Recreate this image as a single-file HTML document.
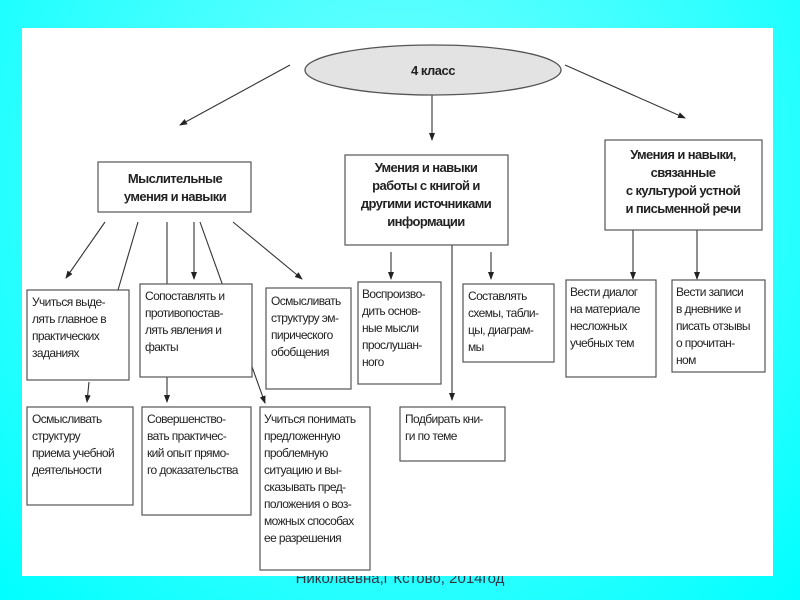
<!DOCTYPE html>
<html><head><meta charset="utf-8"><style>
html,body{margin:0;padding:0;}
body{width:800px;height:600px;overflow:hidden;background:radial-gradient(ellipse at 50% 30%,#7ff 0%,#3ff 60%,#0ff 100%);position:relative;font-family:"Liberation Sans",sans-serif;}
.foot{position:absolute;left:0;width:800px;top:570px;text-align:center;font-size:15px;color:#334;font-family:"Liberation Sans",sans-serif;}
svg{position:absolute;left:0;top:0;}
</style></head><body>
<div class="foot">Николаевна,г Кстово, 2014год</div>
<svg width="800" height="600" viewBox="0 0 800 600" font-family="Liberation Sans, sans-serif">
<defs><marker id="a" markerWidth="8" markerHeight="8" refX="7" refY="4" orient="auto" markerUnits="userSpaceOnUse"><path d="M0,1 L8,4 L0,7 z" fill="#222"/></marker></defs>
<rect x="22" y="28" width="751" height="548" fill="#fff"/>
<g stroke="#333" stroke-width="1.1" fill="none">
<line x1="290" y1="65" x2="180" y2="125" marker-end="url(#a)"/>
<line x1="432" y1="92" x2="432" y2="140" marker-end="url(#a)"/>
<line x1="565" y1="65" x2="685" y2="118" marker-end="url(#a)"/>
<line x1="105" y1="222" x2="66" y2="278" marker-end="url(#a)"/>
<line x1="138" y1="222" x2="118" y2="290"/>
<line x1="167" y1="222" x2="167" y2="284"/>
<line x1="194" y1="222" x2="194" y2="279" marker-end="url(#a)"/>
<line x1="200" y1="222" x2="265" y2="403" marker-end="url(#a)"/>
<line x1="233" y1="222" x2="302" y2="279" marker-end="url(#a)"/>
<line x1="89" y1="382" x2="87" y2="402" marker-end="url(#a)"/>
<line x1="167" y1="377" x2="167" y2="402" marker-end="url(#a)"/>
<line x1="391" y1="252" x2="391" y2="279" marker-end="url(#a)"/>
<line x1="452" y1="245" x2="452" y2="400" marker-end="url(#a)"/>
<line x1="491" y1="252" x2="491" y2="279" marker-end="url(#a)"/>
<line x1="633" y1="230" x2="633" y2="279" marker-end="url(#a)"/>
<line x1="697" y1="230" x2="697" y2="279" marker-end="url(#a)"/>
</g>
<ellipse cx="433" cy="70" rx="128" ry="25" fill="#e3e3e3" stroke="#555" stroke-width="1.3"/>
<text x="433" y="75" font-size="13" font-weight="bold" text-anchor="middle" fill="#222" letter-spacing="-0.5">4 класс</text>
<g fill="#fff" stroke="#555" stroke-width="1.2">
<rect x="98" y="162" width="153" height="50"/>
<rect x="345" y="155" width="163" height="90"/>
<rect x="605" y="140" width="157" height="90"/>
<rect x="27" y="290" width="102" height="90"/>
<rect x="140" y="284" width="112" height="93"/>
<rect x="266" y="288" width="85" height="101"/>
<rect x="358" y="282" width="83" height="102"/>
<rect x="463" y="284" width="91" height="78"/>
<rect x="566" y="280" width="90" height="97"/>
<rect x="672" y="280" width="93" height="92"/>
<rect x="27" y="407" width="106" height="98"/>
<rect x="142" y="407" width="109" height="108"/>
<rect x="260" y="407" width="110" height="163"/>
<rect x="400" y="407" width="105" height="54"/>
</g>
<g font-size="13" font-weight="bold" fill="#222" text-anchor="middle" letter-spacing="-0.6">
<text x="175" y="183">Мыслительные</text><text x="175" y="201">умения и навыки</text>
<text x="426" y="172">Умения и навыки</text><text x="426" y="190">работы с книгой и</text><text x="426" y="208">другими источниками</text><text x="426" y="226">информации</text>
<text x="683" y="159">Умения и навыки,</text><text x="683" y="177">связанные</text><text x="683" y="195">с культурой устной</text><text x="683" y="213">и письменной речи</text>
</g>
<g font-size="12" fill="#222" letter-spacing="-0.6">
<text x="32" y="306">Учиться выде-</text><text x="32" y="323">лять главное в</text><text x="32" y="340">практических</text><text x="32" y="357">заданиях</text>
<text x="145" y="300">Сопоставлять и</text><text x="145" y="317">противопостав-</text><text x="145" y="334">лять явления и</text><text x="145" y="351">факты</text>
<text x="271" y="305">Осмысливать</text><text x="271" y="322">структуру эм-</text><text x="271" y="339">пирического</text><text x="271" y="356">обобщения</text>
<text x="362" y="298">Воспроизво-</text><text x="362" y="315">дить основ-</text><text x="362" y="332">ные мысли</text><text x="362" y="349">прослушан-</text><text x="362" y="366">ного</text>
<text x="468" y="300">Составлять</text><text x="468" y="317">схемы, табли-</text><text x="468" y="334">цы, диаграм-</text><text x="468" y="351">мы</text>
<text x="570" y="296">Вести диалог</text><text x="570" y="313">на материале</text><text x="570" y="330">несложных</text><text x="570" y="347">учебных тем</text>
<text x="676" y="296">Вести записи</text><text x="676" y="313">в дневнике и</text><text x="676" y="330">писать отзывы</text><text x="676" y="347">о прочитан-</text><text x="676" y="364">ном</text>
<text x="32" y="423">Осмысливать</text><text x="32" y="440">структуру</text><text x="32" y="457">приема учебной</text><text x="32" y="474">деятельности</text>
<text x="147" y="423">Совершенство-</text><text x="147" y="440">вать практичес-</text><text x="147" y="457">кий опыт прямо-</text><text x="147" y="474">го доказательства</text>
<text x="264" y="423">Учиться понимать</text><text x="264" y="440">предложенную</text><text x="264" y="457">проблемную</text><text x="264" y="474">ситуацию и вы-</text><text x="264" y="491">сказывать пред-</text><text x="264" y="508">положения о воз-</text><text x="264" y="525">можных способах</text><text x="264" y="542">ее разрешения</text>
<text x="405" y="423">Подбирать кни-</text><text x="405" y="440">ги по теме</text>
</g>
</svg>
</body></html>
